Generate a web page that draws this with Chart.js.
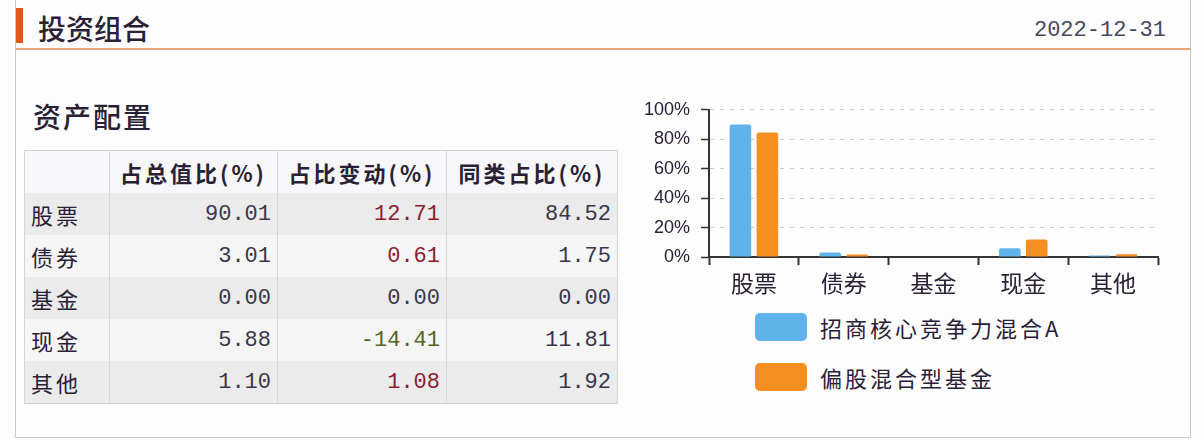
<!DOCTYPE html>
<html>
<head>
<meta charset="utf-8">
<script src="https://cdn.jsdelivr.net/npm/chart.js@4.4.0/dist/chart.umd.min.js"></script>
<style>
	body {
		margin: 0;
		width: 1204px;
		height: 440px;
		background: #fdfdfe;
		font-family: 'Noto Sans CJK SC', sans-serif;
		color: #2a2035;
		position: relative;
		overflow: hidden;
	}
	.frame {
		position: absolute;
		left: 15px;
		top: 0;
		width: 1174px;
		height: 437px;
		border-left: 1px solid #c8c8cc;
		border-right: 1px solid #c8c8cc;
		border-bottom: 1px solid #c8c8cc;
	}
	.mark {
		position: absolute;
		left: 16px;
		top: 8px;
		width: 7px;
		height: 35px;
		background: #e05a1c;
	}
	.rule {
		position: absolute;
		left: 16px;
		top: 48px;
		width: 1174px;
		height: 2px;
		background: #eba57a;
	}
	.title {
		position: absolute;
		left: 38px;
		top: 10px;
		font-size: 28px;
		line-height: 36px;
		font-weight: 500;
	}
	.date {
		position: absolute;
		right: 38px;
		top: 16px;
		font-family: 'Liberation Mono', monospace;
		font-size: 22px;
		line-height: 30px;
		color: #4a4560;
	}
	.subtitle {
		position: absolute;
		left: 33px;
		top: 98px;
		font-size: 28px;
		line-height: 36px;
		font-weight: 500;
		letter-spacing: 2px;
	}
	table {
		position: absolute;
		left: 24px;
		top: 150px;
		border-collapse: collapse;
		border: 1px solid #cfcfd2;
		font-size: 22px;
		letter-spacing: 3px;
	}
	td, th {
		height: 42px;
		padding: 0;
		border-left: 1px solid #d6d6d8;
		border-right: 1px solid #d6d6d8;
	}
	th {
		background: #f7f7f9;
		font-weight: 600;
		text-align: center;
	}
	td.label {
		text-align: left;
		padding-left: 6px;
		width: 78px;
	}
	td.num {
		text-align: right;
		padding-right: 6px;
		font-family: 'Liberation Mono', monospace;
		letter-spacing: 0;
		color: #3a3548;
	}
	tr.odd td { background: #ebebec; }
	tr.even td { background: #f5f5f6; }
	.chart-box {
		position: absolute;
		left: 625px;
		top: 88px;
		width: 545px;
		height: 214px;
	}
	.legend {
		position: absolute;
		left: 755px;
		top: 313px;
	}
	.legend-item {
		display: flex;
		align-items: center;
		height: 28px;
		margin-bottom: 22px;
		font-size: 22px;
		letter-spacing: 3px;
	}
	.legend-item span.box {
		width: 52px;
		height: 28px;
		border-radius: 5px;
		margin-right: 13px;
	}
</style>
</head>
<body>
<div class="frame"></div>
<div class="mark"></div>
<div class="rule"></div>
<div class="title">投资组合</div>
<div class="date">2022-12-31</div>
<div class="subtitle">资产配置</div>
<table id="alloc"></table>
<div class="chart-box"><canvas id="myChart"></canvas></div>
<div class="legend" id="legend"></div>

<script>
const categories = ['股票', '债券', '基金', '现金', '其他'];
const fundShare = [90.01, 3.01, 0.00, 5.88, 1.10];
const shareChange = [12.71, 0.61, 0.00, -14.41, 1.08];
const peerShare = [84.52, 1.75, 0.00, 11.81, 1.92];
const tableHeaders = ['', '占总值比(%)', '占比变动(%)', '同类占比(%)'];
const seriesNames = ['招商核心竞争力混合A', '偏股混合型基金'];
const seriesColors = ['#5fb3ea', '#f48f20'];
const yTicks = [0, 20, 40, 60, 80, 100];

const changeColor = (v) => {
	if (v > 0) return '#8e1b2e';
	if (v < 0) return '#57621f';
	return '#3a3548';
};

const buildTable = () => {
	const table = document.getElementById('alloc');
	const colWidths = [84, 167, 168, 170];
	let html = '<tr>';
	tableHeaders.map((h, i) => {
		html += `<th style="width:${colWidths[i]}px">${h}</th>`;
	});
	html += '</tr>';
	categories.map((cat, i) => {
		html += `<tr class="${i % 2 === 0 ? 'odd' : 'even'}">`;
		html += `<td class="label">${cat}</td>`;
		html += `<td class="num">${fundShare[i].toFixed(2)}</td>`;
		html += `<td class="num" style="color:${changeColor(shareChange[i])}">${shareChange[i].toFixed(2)}</td>`;
		html += `<td class="num">${peerShare[i].toFixed(2)}</td>`;
		html += '</tr>';
	});
	table.innerHTML = html;
};

const buildLegend = (chart) => {
	const items = Chart.defaults.plugins.legend.labels.generateLabels(chart);
	const legend = document.getElementById('legend');
	legend.innerHTML = items
		.map((item) => `<div class="legend-item"><span class="box" style="background:${item.fillStyle}"></span>${item.text}</div>`)
		.join('');
};

const showChart = () => {
	const ctx = document.getElementById('myChart').getContext('2d');
	const myChart = new Chart(ctx, {
		type: 'bar',
		data: {
			labels: categories,
			datasets: [
				{
					label: seriesNames[0],
					data: fundShare,
					backgroundColor: seriesColors[0],
					borderRadius: 2,
				},
				{
					label: seriesNames[1],
					data: peerShare,
					backgroundColor: seriesColors[1],
					borderRadius: 2,
				},
			],
		},
		options: {
			responsive: true,
			maintainAspectRatio: false,
			animation: false,
			layout: { padding: { top: 0, right: 12, left: 0, bottom: 0 } },
			datasets: { bar: { categoryPercentage: 0.6, barPercentage: 0.8 } },
			plugins: {
				legend: { display: false },
				tooltip: { enabled: false },
			},
			scales: {
				x: {
					afterFit: (scale) => { scale.height = 45; },
					grid: {
						drawOnChartArea: false,
						drawTicks: true,
						tickLength: 8,
						tickColor: '#333',
						tickWidth: 2,
					},
					border: { color: '#333', width: 2 },
					ticks: {
						padding: 4,
						color: '#2a2035',
						font: { family: 'Noto Sans CJK SC', size: 23 },
					},
				},
				y: {
					min: 0,
					max: 100,
					afterFit: (scale) => { scale.width = 84; },
					afterBuildTicks: (scale) => {
						scale.ticks = yTicks.map((v) => ({ value: v }));
					},
					grid: {
						color: (c) => (c.tick && c.tick.value === 0 ? 'rgba(0,0,0,0)' : '#c9c9cc'),
						tickLength: 8,
						tickColor: '#333',
						tickWidth: 1.5,
					},
					border: { color: '#333', width: 2, dash: [4, 6] },
					ticks: {
						padding: 11,
						color: '#2a2035',
						font: { family: 'Liberation Sans', size: 18 },
						callback: (v) => `${v}%`,
					},
				},
			},
		},
	});
	buildLegend(myChart);
};

buildTable();
showChart();
</script>
</body>
</html>
